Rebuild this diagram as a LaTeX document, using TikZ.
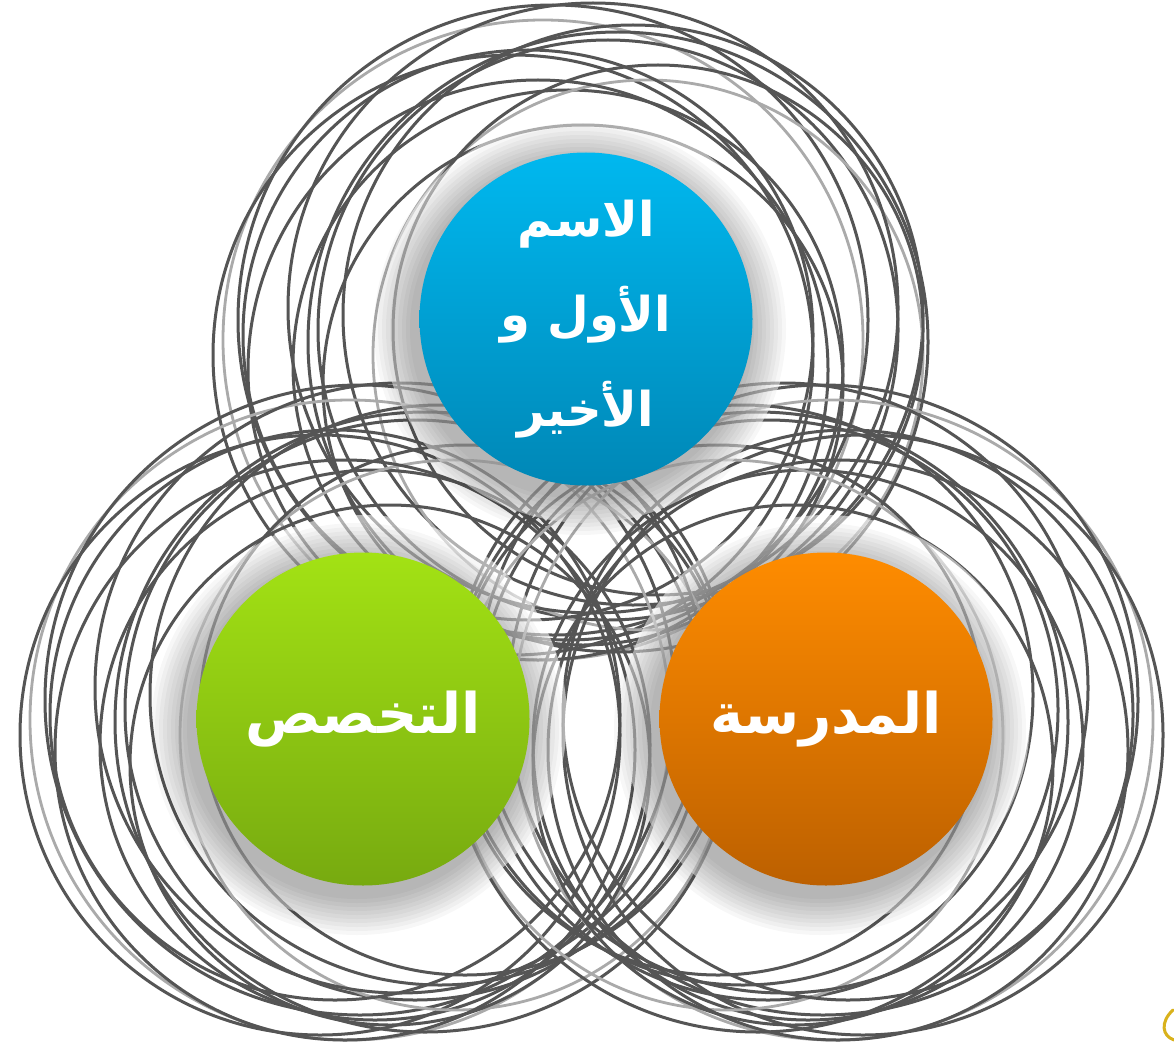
\documentclass[tikz,border=0pt]{standalone}
\usepackage{fontspec}
\TeXXeTstate=1
\newfontfamily\arabicfont[Script=Arabic]{DejaVu Sans}
\definecolor{sketchdark}{HTML}{555555}
\definecolor{sketchlight}{HTML}{AAAAAA}
\definecolor{bluetop}{HTML}{00B8EF}
\definecolor{bluebot}{HTML}{0087B6}
\definecolor{greentop}{HTML}{A3E214}
\definecolor{greenbot}{HTML}{77AA10}
\definecolor{orangetop}{HTML}{FF8C00}
\definecolor{orangebot}{HTML}{BC6000}
\definecolor{goldmark}{HTML}{D9B21C}
\tikzset{
  ringdark/.style={draw=sketchdark, line width=3pt},
  ringlight/.style={draw=sketchlight, line width=2.8pt},
  ball/.style={circle, minimum size=333pt, inner sep=0pt, text=white, align=center},
  balltext/.style={font=\arabicfont\bfseries\fontsize{48}{95}\selectfont},
  balltextbig/.style={font=\arabicfont\bfseries\fontsize{56}{95}\selectfont},
}
\newcommand{\ringgroup}[3]{% cx, cy, sign
  \foreach \dx/\dy/\r/\st in {-25/10/320/ringlight, 40/0/290/ringdark, -55/25/300/ringdark,
      65/-15/290/ringdark, 0/35/275/ringdark, -15/-10/315/ringdark, 80/25/275/ringlight,
      25/-22/305/ringdark, -40/5/285/ringdark, 15/55/260/ringdark, 50/12/310/ringdark,
      -30/40/290/ringdark, 90/0/265/ringdark}
    \draw[\st] (#1+#3*\dx, #2+\dy) circle (\r);
}
\newcommand{\ballshadow}[2]{%
  \fill[white, opacity=0.55] (#1, #2) circle (204);
  \foreach \i in {1,...,10}
    \fill[black, opacity=0.03] (#1-6, #2+10) circle (166+4*\i);
}
\begin{document}
\begin{tikzpicture}[x=1pt, y=-1pt]
\useasboundingbox (0,0) rectangle (1174,1051);
\fill[white] (0,0) rectangle (1174,1051);
% sketchy rings
\ringgroup{568}{330}{1}
\ringgroup{375}{710}{1}
\ringgroup{808}{710}{-1}
% shadows
\ballshadow{586}{319}
\ballshadow{363}{719}
\ballshadow{826}{719}
% balls
\node[ball, top color=bluetop, bottom color=bluebot, balltext] (name) at (586,319)
  {\beginR الاسم\endR\\\beginR الأول و\endR\\\beginR الأخير\endR};
\node[ball, top color=greentop, bottom color=greenbot, balltextbig] (major) at (363,719)
  {\beginR التخصص\endR};
\node[ball, top color=orangetop, bottom color=orangebot, balltextbig] (school) at (826,719)
  {\beginR المدرسة\endR};
% small golden mark at the corner
\draw[goldmark, line width=3pt, line cap=round] (1173,1010) .. controls (1160,1022) and (1162,1036) .. (1174,1040);
\end{tikzpicture}
\end{document}
